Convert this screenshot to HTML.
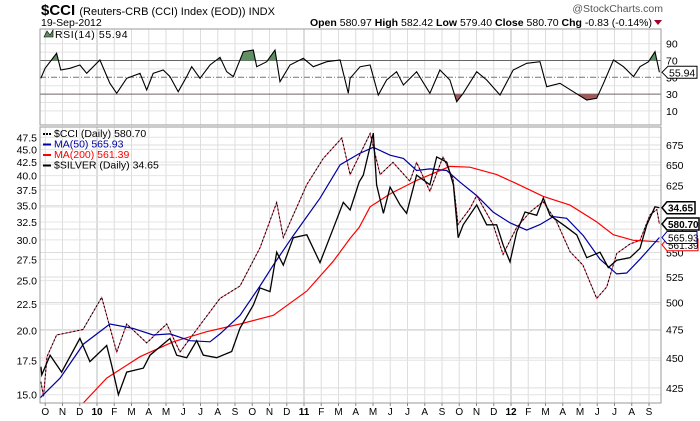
<!DOCTYPE html>
<html><head><meta charset="utf-8">
<style>
body{margin:0;background:#fff;font-family:"Liberation Sans",sans-serif;}
svg{display:block}
text{font-family:"Liberation Sans",sans-serif;}
</style></head>
<body>
<svg id="chart" width="700" height="421" viewBox="0 0 700 421" xmlns="http://www.w3.org/2000/svg">
<g>
<text x="41" y="15" font-size="15" font-weight="bold">$CCI <tspan font-size="11" font-weight="normal">(Reuters-CRB (CCI) Index (EOD)) INDX</tspan></text>
<text x="41" y="26" font-size="10.5">19-Sep-2012</text>
<text x="652" y="26" font-size="10.5" text-anchor="end"><tspan font-weight="bold">Open</tspan> 580.97 <tspan font-weight="bold">High</tspan> 582.42 <tspan font-weight="bold">Low</tspan> 579.40 <tspan font-weight="bold">Close</tspan> 580.70 <tspan font-weight="bold">Chg</tspan> -0.83 (-0.14%)</text>
<polygon points="654,20 662,20 658,25" fill="#a0002a"/>
<text x="663" y="12" font-size="10.5" fill="#555" text-anchor="end">@StockCharts.com</text>
</g>
<g id="rsi"></g>
<g id="main"></g>
<g id="xaxis"></g>
</svg>
<script>
// ---- data (t = months since 1 Jan 2010) ----
const monthLabels = ["O","N","D","10","F","M","A","M","J","J","A","S","O","N","D","11","F","M","A","M","J","J","A","S","O","N","D","12","F","M","A","M","J","J","A","S"];
const leftTicks = [15.0,17.5,20.0,22.5,25.0,27.5,30.0,32.5,35.0,37.5,40.0,42.5,45.0,47.5];
const rightTicks = [425,450,475,500,525,550,575,600,625,650,675];
const rsiTicks = [10,30,50,70,90];

const cciT = [-3.25,-3.1,-2.9,-2.34,-0.81,0.27,1.14,1.72,2.88,4.04,4.81,5.78,7.13,8.29,9.45,10.42,10.8,12.16,13.12,14.19,14.67,15.83,16.41,17.16,18.14,18.53,19.3,20.06,20.64,20.93,21.62,22.01,22.96,23.54,24.33,25.1,25.86,26.65,27.42,28.17,28.97,29.55,30.13,30.9,31.48,32.06,32.45,32.6];
const cciV = [430,418,451,470,475,505,455,480,463,480,455,475,504,516,555,605,566,626,658,684,638,690,638,653,630,653,618,660,633,580,598,613,580,548,577,594,606,583,551,537,504,515,549,559,563,591,597,580.7];

const silverT = [-3.25,-3.2,-2.72,-2.05,-0.99,-0.41,0.56,0.85,1.24,1.72,2.69,3.07,4.23,4.62,5.2,5.78,6.16,6.94,7.81,8.29,9.06,9.45,10.03,10.42,10.8,11.38,12.16,12.93,13.7,14.28,14.67,15.2,15.44,16.02,16.21,16.6,16.99,17.57,17.95,18.53,19.3,19.69,20.27,20.66,20.94,21.23,22.01,22.59,23.17,23.55,23.94,24.33,24.81,25.49,25.87,26.26,27.03,27.81,28.39,29.16,29.64,30.13,30.9,31.48,31.87,32.35,32.6];
const silverV = [17.0,16.4,17.9,16.6,19.3,17.4,18.7,17.1,15.0,16.6,16.9,17.9,19.3,17.9,17.7,19.1,17.9,17.7,18.2,20.2,22.4,24.2,23.8,28.4,26.8,30.3,30.7,27.1,31.6,35.5,34.3,38.9,40.1,48.4,38.4,33.8,38.0,35.1,33.8,40.1,38.4,43.5,42.5,38.4,30.3,32.1,35.1,32.1,32.1,29.3,27.2,31.1,34.0,33.5,36.2,33.5,32.1,30.7,27.7,28.4,26.5,27.4,27.7,28.9,32.1,34.8,34.65];

const ma50T = [-3.3,-2.14,-0.79,0.75,2.1,3.26,4.23,5.39,6.55,7.13,8.29,9.45,10.22,11.38,12.93,14.09,15.2,16.02,16.99,17.76,18.53,19.3,20.27,21.04,22.01,22.97,23.94,24.91,25.68,26.45,27.23,28.19,29.16,30.13,30.71,31.48,32.6];
const ma50V = [417,433,462,480,476,470,471,465,464,471,488,516,537,568,610,650,664,672,662,658,643,645,643,629,613,594,582,574,580,589,587,568,543,528,529,543,565.93];

const ma200T = [-0.79,0.56,2.49,4.42,6.36,8.29,10.22,12.16,13.7,14.67,15.2,15.83,16.99,18.53,20.46,21.62,23.17,24.33,25.87,27.42,28.97,29.93,31.09,32.6];
const ma200V = [413,433,451,464,473,480,488,511,541,565,577,600,615,631,648,647,638,627,612,602,583,569,563,561.39];

const rsiT = [-3.26,-3.01,-2.34,-2.10,-1.57,-0.99,-0.60,0.17,0.75,1.14,1.72,2.49,2.88,3.26,3.84,4.23,4.71,5.20,5.49,5.97,6.55,7.13,7.52,7.90,8.48,9.06,9.26,9.84,10.32,10.61,11.19,11.96,12.54,13.32,14.09,14.57,14.67,15.25,15.83,16.31,16.79,17.37,17.76,18.53,19.30,19.88,20.46,20.85,21.23,22.01,22.59,23.36,24.13,24.91,25.68,26.07,26.84,27.61,28.39,28.97,29.36,29.94,30.52,31.1,31.48,31.97,32.35,32.6];
const rsiV = [48.8,60.7,78.6,58.7,60.7,64.6,54.8,70.6,42.9,31,48.8,54.8,34.9,54.8,58.7,50.8,32.9,50.8,62.6,48.8,64.6,73.8,56.7,50.8,80.5,82.5,62.6,68.6,82.5,44.8,64.6,72.6,62.6,68.6,70.6,31,48.8,62.6,64.6,28.9,46.8,56.7,40.8,56.7,31,58.7,46.8,21,31,56.7,46.8,28.9,58.7,66.7,68.6,38.8,42.9,32.9,23,25,42.9,70.6,62.6,50.8,62.6,68.6,80.5,55.94];

// ---- geometry ----
const L=40,R=661,RT=29,RB=125,MT=127,MB=403;
const X=t=>97+17.25*t;
const yR=v=>145+525*Math.log(675/v);
const yL=v=>137.3+223.3*Math.log(47.5/v);
const yRSI=v=>77.3-(v-50)*0.84;
const NS="http://www.w3.org/2000/svg";
function mk(parent,tag,attrs){const e=document.createElementNS(NS,tag);for(const k in attrs)e.setAttribute(k,attrs[k]);parent.appendChild(e);return e;}
function pathD(T,V,f){return T.map((t,i)=>(i?"L":"M")+X(t).toFixed(1)+","+f(V[i]).toFixed(1)).join("");}

const rsi=document.getElementById('rsi'), main=document.getElementById('main'), xa=document.getElementById('xaxis');

const defs=mk(document.getElementById('chart'),'defs',{});
const c1=mk(defs,'clipPath',{id:'clipRsi'});mk(c1,'rect',{x:L,y:RT,width:R-L,height:RB-RT});
const c2=mk(defs,'clipPath',{id:'clipMain'});mk(c2,'rect',{x:L,y:MT,width:R-L,height:MB-MT});
const c3=mk(defs,'clipPath',{id:'clipOB'});mk(c3,'rect',{x:L,y:RT,width:R-L,height:yRSI(70)-RT});
const c4=mk(defs,'clipPath',{id:'clipOS'});mk(c4,'rect',{x:L,y:yRSI(30),width:R-L,height:RB-yRSI(30)});

monthLabels.forEach((m,i)=>{
  const x=X(i-3);
  let g=mk(rsi,'line',{x1:x,x2:x,y1:RT,y2:RB,stroke:m.length>1?'#bbb':'#ddd','stroke-width':1});
  
  
  let g2=mk(main,'line',{x1:x,x2:x,y1:MT,y2:MB,stroke:m.length>1?'#bbb':'#ddd','stroke-width':1});
  
  
  let tx=mk(xa,'text',{x:x,y:415,'font-size':10,'text-anchor':'middle','font-weight':m.length>1?'bold':'normal'});
  tx.textContent=m;
  
  
  let tk=mk(xa,'line',{x1:x,x2:x,y1:MB,y2:MB+3,stroke:'#888'});
  
  
});

[20,40,60,80].forEach(v=>{let l=mk(rsi,'line',{x1:L,x2:R,y1:yRSI(v),y2:yRSI(v),stroke:'#e2e2e2'});
  
  });
rsiTicks.forEach(v=>{
  const y=yRSI(v);
  if(v===70||v===30){let l=mk(rsi,'line',{x1:L,x2:R,y1:y,y2:y,stroke:'#666'});
    
    }
  else if(v===50){let l=mk(rsi,'line',{x1:L,x2:R,y1:y,y2:y,stroke:'#777','stroke-dasharray':'6,2,1,2'});
    
    }
  else {let l=mk(rsi,'line',{x1:L,x2:R,y1:y,y2:y,stroke:'#e2e2e2'});
    
    }
  let t=mk(rsi,'text',{x:666,y:y+4,'font-size':10.5});t.textContent=v;
  
  
});
const rd=pathD(rsiT,rsiV,yRSI);
const x0=X(rsiT[0]),x1=X(rsiT[rsiT.length-1]);
let ob=mk(rsi,'path',{d:rd+`L${x1},${yRSI(70)}L${x0},${yRSI(70)}Z`,fill:'#5f8f63','clip-path':'url(#clipOB)'});


let os=mk(rsi,'path',{d:rd+`L${x1},${yRSI(30)}L${x0},${yRSI(30)}Z`,fill:'#a05a5a','clip-path':'url(#clipOS)'});


let rl=mk(rsi,'path',{d:rd,fill:'none',stroke:'#000','stroke-width':1.1,'clip-path':'url(#clipRsi)'});


let rb=mk(rsi,'rect',{x:L,y:RT,width:R-L,height:RB-RT,fill:'none',stroke:'#999'});


let ri=mk(rsi,'path',{d:'M44,37 L47,31 L50,35 L53,30 L53,37Z',fill:'#5f8f63',stroke:'#000','stroke-width':0.6});


let rt=mk(rsi,'text',{x:55,y:38,'font-size':10.5,'letter-spacing':'0.6'});rt.textContent='RSI(14) 55.94';


let rtag=mk(rsi,'path',{d:`M662,${yRSI(55.94)} L668,${yRSI(55.94)-6} L697,${yRSI(55.94)-6} L697,${yRSI(55.94)+6} L668,${yRSI(55.94)+6}Z`,fill:'#fff',stroke:'#000'});


let rtt=mk(rsi,'text',{x:669,y:yRSI(55.94)+4,'font-size':10.5});rtt.textContent='55.94';



rightTicks.forEach(v=>{const y=yR(v);
  let l=mk(main,'line',{x1:L,x2:R,y1:y,y2:y,stroke:'#ddd'});
  
  
  let t=mk(main,'text',{x:666,y:y+4,'font-size':10.5});t.textContent=v;
  
  });
leftTicks.forEach(v=>{const y=yL(v);
  let l=mk(main,'line',{x1:L,x2:R,y1:y,y2:y,stroke:'#e4e4e4'});
  
  
  let t=mk(main,'text',{x:37,y:y+4,'font-size':10.5,'text-anchor':'end'});t.textContent=v.toFixed(1);
  
  });

const cd=pathD(cciT,cciV,yR);
let s1=mk(main,'path',{d:cd,fill:'none',stroke:'#e8506a','stroke-width':1,'clip-path':'url(#clipMain)'});


let s2=mk(main,'path',{d:cd,fill:'none',stroke:'#000','stroke-width':1,'stroke-dasharray':'2,2','clip-path':'url(#clipMain)'});


let s3=mk(main,'path',{d:pathD(ma200T,ma200V,yR),fill:'none',stroke:'#f00','stroke-width':1.2,'clip-path':'url(#clipMain)'});


let s4=mk(main,'path',{d:pathD(ma50T,ma50V,yR),fill:'none',stroke:'#0000a0','stroke-width':1.2,'clip-path':'url(#clipMain)'});


let s5=mk(main,'path',{d:pathD(silverT,silverV,yL),fill:'none',stroke:'#000','stroke-width':1.3,'clip-path':'url(#clipMain)'});


let mb=mk(main,'rect',{x:L,y:MT,width:R-L,height:MB-MT,fill:'none',stroke:'#999'});



const legend=[["$CCI (Daily) 580.70","#000",true],["MA(50) 565.93","#0000a0",false],["MA(200) 561.39","#f00",false],["$SILVER (Daily) 34.65","#000",false]];
legend.forEach((e,i)=>{const y=137+i*10.5;
  let l=mk(main,'line',{x1:43,x2:51,y1:y-3,y2:y-3,stroke:e[1],'stroke-width':2,'stroke-dasharray':e[2]?'2,1':'none'});
  
  
  let t=mk(main,'text',{x:54,y:y,'font-size':10.5,fill:e[1]});t.textContent=e[0];
  
  });

function tag(y,txt,col,bold,w,name){
  let p=mk(main,'path',{d:`M662,${y} L667,${y-6} L${667+w},${y-6} L${667+w},${y+6} L667,${y+6}Z`,fill:'#fff',stroke:col,'stroke-width':bold?1.5:1});
  
  
  let t=mk(main,'text',{x:668,y:y+4,'font-size':10,'font-weight':bold?'bold':'normal',fill:'#000'});t.textContent=txt;
  
  
}
tag(yR(561.39)+3,"561.39","#f00",false,31,"ma200-tag");
tag(yR(565.93),"565.93","#0000a0",false,30,"ma50-tag");
tag(yR(580.70),"580.70","#000",true,32,"cci-tag");
tag(yL(34.65),"34.65","#000",true,28,"silver-tag");
</script>
</body></html>
